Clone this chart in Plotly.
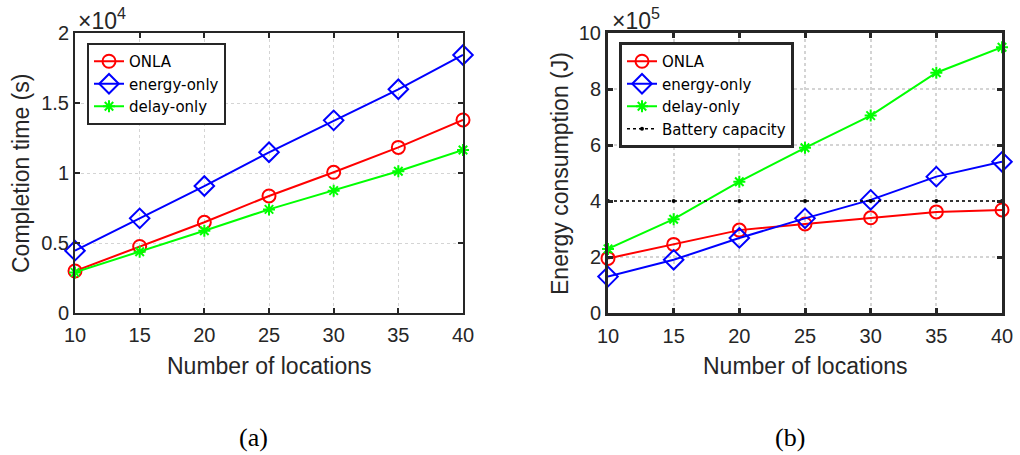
import plotly.graph_objects as go

locations = [10, 15, 20, 25, 30, 35, 40]

# (a) Completion time (s)
time_onla = [3000, 4750, 6480, 8360, 10050, 11830, 13790]
time_energy_only = [4450, 6760, 9070, 11480, 13760, 15980, 18430]
time_delay_only = [2900, 4380, 5880, 7400, 8740, 10120, 11640]

# (b) Energy consumption (J)
energy_onla = [1.95e5, 2.45e5, 2.96e5, 3.18e5, 3.40e5, 3.61e5, 3.68e5]
energy_energy_only = [1.30e5, 1.90e5, 2.68e5, 3.38e5, 4.04e5, 4.87e5, 5.40e5]
energy_delay_only = [2.29e5, 3.35e5, 4.69e5, 5.90e5, 7.05e5, 8.58e5, 9.49e5]
battery_capacity = [4e5] * 7

x_ticks = [10, 15, 20, 25, 30, 35, 40]
y1_ticks = [0, 5000, 10000, 15000, 20000]
y1_text = ["0", "0.5", "1", "1.5", "2"]
y2_ticks = [0, 2e5, 4e5, 6e5, 8e5, 1e6]
y2_text = ["0", "2", "4", "6", "8", "10"]

W, H = 1020, 455
FONT = "Liberation Sans, Arial, sans-serif"
LEGFONT = "DejaVu Sans, sans-serif"
TXT = "#262626"
RED, BLUE, GREEN = "#ff0000", "#0000ff", "#00ff00"

def px(x):
    return x / W

def py(y):
    return 1 - y / H

fig = go.Figure()

def add(x, y, name, color, symbol, size, xa, ya, leg, dash="solid", width=2):
    fig.add_trace(go.Scatter(
        x=x, y=y, name=name, mode="lines+markers",
        line=dict(color=color, width=width, dash=dash),
        marker=dict(symbol=symbol, size=size, color=color,
                    line=dict(color=color, width=2)),
        xaxis=xa, yaxis=ya, legend=leg, cliponaxis=False))

add(locations, time_onla, "ONLA", RED, "circle-open", 13, "x", "y", "legend")
add(locations, time_energy_only, "energy-only", BLUE, "diamond-open", 15, "x", "y", "legend")
add(locations, time_delay_only, "delay-only", GREEN, "asterisk-open", 10, "x", "y", "legend")

add(locations, energy_onla, "ONLA", RED, "circle-open", 13, "x2", "y2", "legend2")
add(locations, energy_energy_only, "energy-only", BLUE, "diamond-open", 15, "x2", "y2", "legend2")
add(locations, energy_delay_only, "delay-only", GREEN, "asterisk-open", 10, "x2", "y2", "legend2")
fig.add_trace(go.Scatter(
    x=locations, y=battery_capacity, name="Battery capacity", mode="lines+markers",
    line=dict(color="black", width=1.5, dash="dot"),
    marker=dict(symbol="circle", size=4, color="black"),
    xaxis="x2", yaxis="y2", legend="legend2", cliponaxis=False))

def axis_common(lw, gw, gdash, standoff):
    return dict(
        showline=True, linecolor=TXT, linewidth=lw, mirror="ticks",
        ticks="inside", ticklen=5, tickwidth=lw, tickcolor=TXT,
        showgrid=True, gridcolor="#d4d4d4", gridwidth=gw, griddash=gdash,
        zeroline=False, automargin=False, ticklabelstandoff=standoff,
        tickfont=dict(family=FONT, size=20, color=TXT),
    )

y_dom = [py(313), py(33)]

fig.update_layout(
    width=W, height=H,
    margin=dict(l=0, r=0, t=0, b=0, pad=0, autoexpand=False),
    paper_bgcolor="white", plot_bgcolor="white",
    font=dict(family=FONT, color=TXT),
    xaxis=dict(domain=[px(75), px(463)], range=[10, 40], tickvals=x_ticks,
               anchor="y", **axis_common(2, 1, "dot", 3)),
    yaxis=dict(domain=y_dom, range=[0, 20000], tickvals=y1_ticks, ticktext=y1_text,
               anchor="x", **axis_common(2, 1, "dot", 0)),
    xaxis2=dict(domain=[px(608), px(1002)], range=[10, 40], tickvals=x_ticks,
                anchor="y2", **axis_common(3, 2, "dot", 3)),
    yaxis2=dict(domain=y_dom, range=[0, 1e6], tickvals=y2_ticks, ticktext=y2_text,
                anchor="x2", **axis_common(3, 2, "dot", 0)),
    legend=dict(x=px(87), y=py(43), xanchor="left", yanchor="top",
                bgcolor="white", bordercolor=TXT, borderwidth=2,
                font=dict(family=LEGFONT, size=15, color="black"),
                tracegroupgap=0, itemwidth=30),
    legend2=dict(x=px(619), y=py(42), xanchor="left", yanchor="top",
                 bgcolor="white", bordercolor=TXT, borderwidth=3,
                 font=dict(family=LEGFONT, size=15, color="black"),
                 tracegroupgap=0, itemwidth=30),
    showlegend=True,
)

ann = []
# axis titles
ann.append(dict(x=px(269), y=py(366), text="Number of locations", showarrow=False,
                font=dict(family=FONT, size=23, color=TXT), xanchor="center", yanchor="middle"))
ann.append(dict(x=px(805), y=py(366), text="Number of locations", showarrow=False,
                font=dict(family=FONT, size=23, color=TXT), xanchor="center", yanchor="middle"))
ann.append(dict(x=px(21), y=py(174), text="Completion time (s)", showarrow=False, textangle=-90,
                font=dict(family=FONT, size=23, color=TXT), xanchor="center", yanchor="middle"))
ann.append(dict(x=px(560), y=py(174), text="Energy consumption (J)", showarrow=False, textangle=-90,
                font=dict(family=FONT, size=23, color=TXT), xanchor="center", yanchor="middle"))
# exponent labels
ann.append(dict(x=px(76), y=py(19), text="×10<sup>4</sup>", showarrow=False,
                font=dict(family=FONT, size=23, color=TXT), xanchor="left", yanchor="middle"))
ann.append(dict(x=px(610), y=py(19), text="×10<sup>5</sup>", showarrow=False,
                font=dict(family=FONT, size=23, color=TXT), xanchor="left", yanchor="middle"))
# captions
ann.append(dict(x=px(253), y=py(437), text="(a)", showarrow=False,
                font=dict(family="Liberation Serif, DejaVu Serif, serif", size=26, color="black"),
                xanchor="center", yanchor="middle"))
ann.append(dict(x=px(790), y=py(437), text="(b)", showarrow=False,
                font=dict(family="Liberation Serif, DejaVu Serif, serif", size=26, color="black"),
                xanchor="center", yanchor="middle"))
for a in ann:
    a["xref"] = "paper"
    a["yref"] = "paper"
fig.update_layout(annotations=ann)

fig.write_html("out.html")
